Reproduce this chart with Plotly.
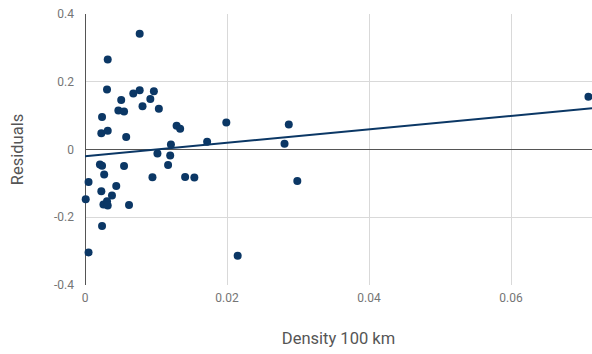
import plotly.graph_objects as go
import numpy as np

# Density within 100 km vs. model residuals
density = [
    0.0077, 0.0032, 0.0031, 0.0077, 0.0097, 0.0068, 0.0051, 0.0092, 0.0081, 0.0104,
    0.0047, 0.0055, 0.0024, 0.0023, 0.0032, 0.0058, 0.0129, 0.0134, 0.0121, 0.0102,
    0.0120, 0.0001, 0.0005, 0.0021, 0.0024, 0.0027, 0.0055, 0.0023, 0.0044, 0.0038,
    0.0026, 0.0031, 0.0032, 0.0062, 0.0024, 0.0005, 0.0095, 0.0117, 0.0141, 0.0154,
    0.0172, 0.0199, 0.0287, 0.0281, 0.0299, 0.0215, 0.0709,
]
residuals = [
    0.342, 0.266, 0.177, 0.175, 0.172, 0.165, 0.146, 0.149, 0.128, 0.120,
    0.115, 0.112, 0.096, 0.048, 0.055, 0.037, 0.070, 0.061, 0.015, -0.012,
    -0.018, -0.147, -0.096, -0.044, -0.048, -0.074, -0.049, -0.123, -0.108, -0.136,
    -0.162, -0.153, -0.165, -0.164, -0.226, -0.304, -0.082, -0.046, -0.081, -0.083,
    0.023, 0.080, 0.074, 0.017, -0.093, -0.314, 0.156,
]

# Linear trend line
trend_intercept = -0.0198
trend_slope = 1.98
x_range = [0, 0.0714]
y_ticks = [-0.4, -0.2, 0, 0.2, 0.4]
x_ticks = [0, 0.02, 0.04, 0.06]

navy = "#0b3765"
trend_x = np.array(x_range)
trend_y = trend_intercept + trend_slope * trend_x

fig = go.Figure()
fig.add_trace(go.Scatter(
    x=density, y=residuals, mode="markers",
    marker=dict(color=navy, size=8, line=dict(width=0)),
    cliponaxis=False,
    hoverinfo="x+y", showlegend=False,
))
fig.add_trace(go.Scatter(
    x=trend_x, y=trend_y, mode="lines",
    line=dict(color=navy, width=2),
    hoverinfo="skip", showlegend=False,
))

fig.update_layout(
    width=592, height=354,
    margin=dict(l=85, r=0, t=14, b=69),
    paper_bgcolor="white", plot_bgcolor="white",
    font=dict(family="Roboto", size=12, color="#757575"),
    xaxis=dict(
        range=x_range, tickvals=x_ticks, ticktext=["0", "0.02", "0.04", "0.06"],
        showgrid=True, gridcolor="#d9d9d9", gridwidth=1,
        zeroline=True, zerolinecolor="#555555", zerolinewidth=1,
        showline=False, ticks="", ticklabelstandoff=4,
        title=dict(text="Density 100 km", font=dict(size=16.5, color="#555555"), standoff=28),
        automargin=False,
    ),
    yaxis=dict(
        range=[-0.4, 0.4], tickvals=y_ticks, ticktext=["-0.4", "-0.2", "0", "0.2", "0.4"],
        showgrid=True, gridcolor="#d9d9d9", gridwidth=1,
        zeroline=True, zerolinecolor="#555555", zerolinewidth=1,
        showline=False, ticks="", ticklabelstandoff=10,
        title=dict(text="Residuals", font=dict(size=16.5, color="#555555"), standoff=26),
        automargin=False,
    ),
)

fig.write_html("out.html")
